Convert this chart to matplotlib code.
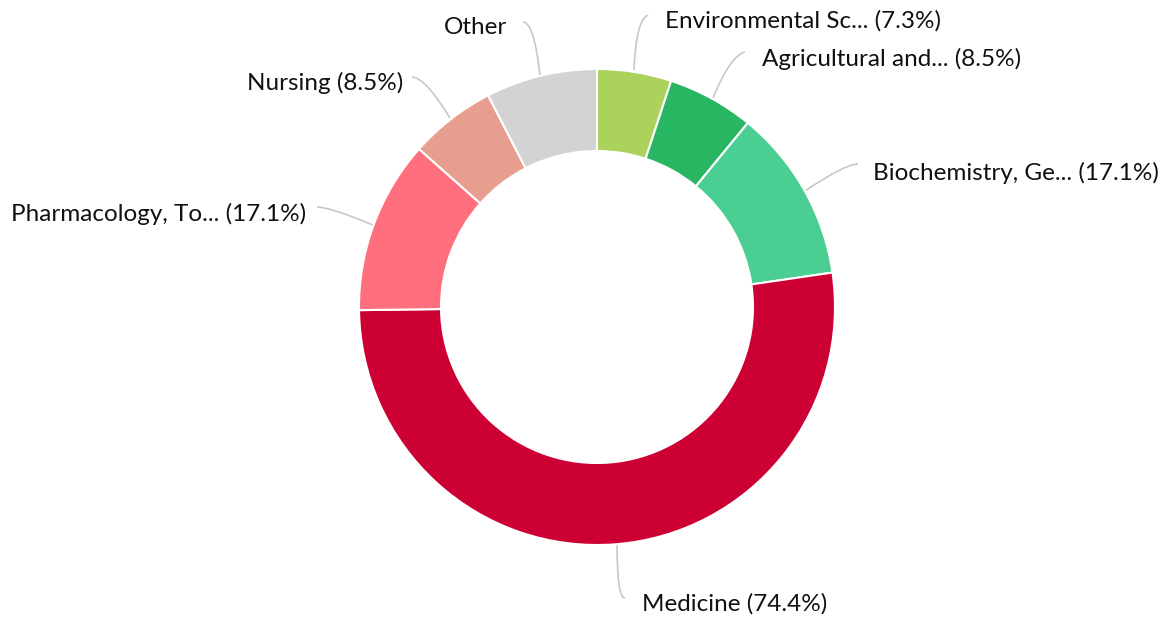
import matplotlib
matplotlib.use("Agg")
import matplotlib.pyplot as plt
from matplotlib.path import Path
from matplotlib.patches import PathPatch

plt.rcParams['font.family'] = ['Lato', 'DejaVu Sans']

categories = ["Environmental Sc...", "Agricultural and...", "Biochemistry, Ge...",
              "Medicine", "Pharmacology, To...", "Nursing", "Other"]
values = [6, 7, 14, 62, 14, 7, 9]
percent_labels = ["(7.3%)", "(8.5%)", "(17.1%)", "(74.4%)", "(17.1%)", "(8.5%)", ""]
colors = ["#abd25a", "#29b663", "#4bce92", "#cc0033", "#ff6f7d", "#e89e8f", "#d3d3d3"]

W, H = 1175, 619
fig = plt.figure(figsize=(W / 100, H / 100), dpi=100)
ax = fig.add_axes([0, 0, 1, 1])

cx, cy = 597, H - 307
R, ring = 238, 82

ax.pie(values, colors=colors, startangle=90, counterclock=False,
       center=(cx, cy), radius=R,
       wedgeprops=dict(width=ring, edgecolor="white", linewidth=1.5))

ax.set_xlim(0, W)
ax.set_ylim(0, H)
ax.set_aspect("equal")
ax.axis("off")

# label layout: (text x, text y, ha, start of leader, control, end on wedge) in pixel coords (y down)
layout = [
    (665, 21, "left", (648, 15), (636, 20), (634, 70)),
    (762, 59, "left", (745, 52), (730, 56), (713, 98)),
    (873, 173, "left", (858, 164), (845, 164), (805, 191)),
    (642, 604, "left", (625, 598), (617, 598), (617, 545)),
    (306, 214, "right", (317, 207), (330, 207), (373, 225)),
    (403, 83, "right", (412, 77), (425, 77), (450, 118)),
    (507, 28, "right", (523, 22), (534, 22), (540, 75)),
]

for cat, pct, (tx, ty, ha, p0, pc, p1) in zip(categories, percent_labels, layout):
    label = cat if not pct else f"{cat} {pct}"
    ax.text(tx, H - ty, label, ha=ha, va="center", fontsize=17.5, color="#111111")
    path = Path([(p0[0], H - p0[1]), (pc[0], H - pc[1]), (p1[0], H - p1[1])],
                [Path.MOVETO, Path.CURVE3, Path.CURVE3])
    ax.add_patch(PathPatch(path, fill=False, edgecolor="#c8c8c8", linewidth=1.2, zorder=0))

fig.savefig("out.png", dpi=100)
